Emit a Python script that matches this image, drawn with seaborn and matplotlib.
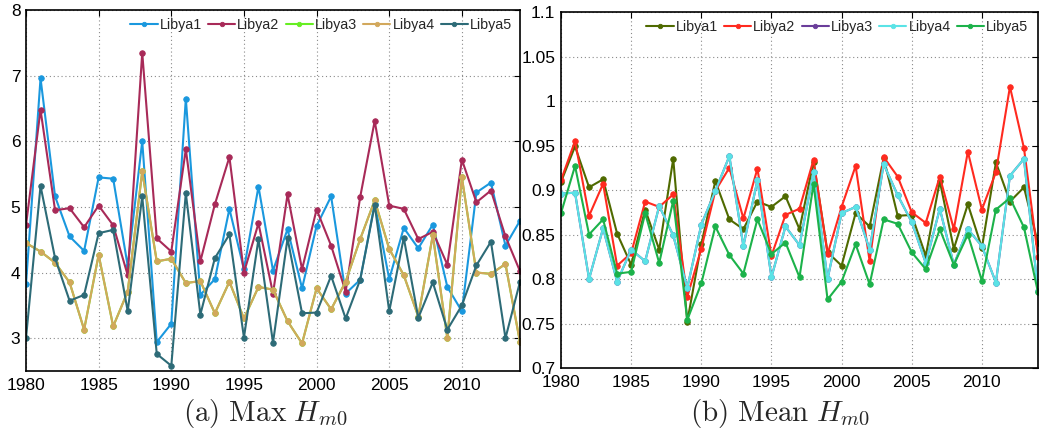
import matplotlib
matplotlib.use("Agg")
import matplotlib.pyplot as plt
import seaborn as sns
import pandas as pd

years = list(range(1980, 2015))
series_names = ["Libya1", "Libya2", "Libya3", "Libya4", "Libya5"]

# (a) Max Hm0
max_libya1 = [3.82, 6.96, 5.16, 4.55, 4.33, 5.45, 5.43, 4.10, 6.00, 2.94,
              3.22, 6.65, 3.66, 3.90, 4.97, 4.05, 5.31, 4.03, 4.66, 3.76,
              4.71, 5.16, 3.68, 3.89, 5.05, 3.90, 4.68, 4.37, 4.73, 3.78,
              3.41, 5.22, 5.37, 4.41, 4.79]
max_libya2 = [4.72, 6.48, 4.95, 4.98, 4.69, 5.02, 4.72, 3.96, 7.35, 4.52,
              4.32, 5.88, 4.17, 5.04, 5.76, 4.00, 4.75, 3.68, 5.19, 4.05,
              4.96, 4.41, 3.71, 5.15, 6.31, 5.02, 4.97, 4.51, 4.62, 4.12,
              5.72, 5.07, 5.25, 4.55, 4.02]
max_libya3 = [4.45, 4.32, 4.15, 3.85, 3.13, 4.27, 3.18, 3.71, 5.54, 4.17,
              4.21, 3.84, 3.87, 3.38, 3.86, 3.30, 3.78, 3.74, 3.26, 2.92,
              3.76, 3.44, 3.86, 4.51, 5.10, 4.36, 3.96, 3.33, 4.57, 3.00,
              5.45, 4.00, 3.98, 4.13, 2.94]
max_libya4 = [4.45, 4.32, 4.15, 3.85, 3.13, 4.27, 3.18, 3.71, 5.54, 4.17,
              4.21, 3.84, 3.87, 3.38, 3.86, 3.30, 3.78, 3.74, 3.26, 2.92,
              3.76, 3.44, 3.86, 4.51, 5.10, 4.36, 3.96, 3.33, 4.57, 3.00,
              5.45, 4.00, 3.98, 4.13, 2.94]
max_libya5 = [3.00, 5.32, 4.22, 3.57, 3.66, 4.60, 4.65, 3.41, 5.16, 2.76,
              2.58, 5.21, 3.36, 4.22, 4.58, 3.01, 4.51, 2.93, 4.52, 3.38,
              3.39, 3.95, 3.30, 3.89, 5.03, 3.41, 4.53, 3.31, 3.85, 3.13,
              3.50, 4.11, 4.47, 3.00, 3.86]

# (b) Mean Hm0
mean_libya1 = [0.909, 0.949, 0.903, 0.912, 0.851, 0.816, 0.878, 0.833, 0.935, 0.752,
               0.839, 0.910, 0.867, 0.856, 0.887, 0.881, 0.893, 0.856, 0.932, 0.830,
               0.815, 0.874, 0.859, 0.936, 0.871, 0.872, 0.826, 0.910, 0.834, 0.884,
               0.835, 0.931, 0.887, 0.903, 0.840]
mean_libya2 = [0.911, 0.955, 0.871, 0.907, 0.815, 0.829, 0.887, 0.881, 0.895, 0.780,
               0.834, 0.899, 0.925, 0.868, 0.924, 0.826, 0.872, 0.879, 0.934, 0.828,
               0.881, 0.927, 0.820, 0.937, 0.915, 0.875, 0.863, 0.915, 0.856, 0.943,
               0.878, 0.920, 1.016, 0.947, 0.825]
mean_libya3 = [0.896, 0.897, 0.800, 0.857, 0.797, 0.833, 0.820, 0.882, 0.849, 0.790,
               0.861, 0.899, 0.938, 0.837, 0.911, 0.802, 0.859, 0.838, 0.920, 0.800,
               0.874, 0.881, 0.833, 0.929, 0.894, 0.864, 0.818, 0.879, 0.816, 0.856,
               0.837, 0.796, 0.916, 0.935, 0.786]
mean_libya4 = [0.896, 0.897, 0.800, 0.857, 0.797, 0.833, 0.820, 0.882, 0.849, 0.790,
               0.861, 0.899, 0.938, 0.837, 0.911, 0.802, 0.859, 0.838, 0.920, 0.800,
               0.874, 0.881, 0.833, 0.929, 0.894, 0.864, 0.818, 0.879, 0.816, 0.856,
               0.837, 0.796, 0.916, 0.935, 0.786]
mean_libya5 = [0.874, 0.927, 0.850, 0.867, 0.806, 0.808, 0.874, 0.818, 0.888, 0.754,
               0.795, 0.859, 0.827, 0.806, 0.867, 0.828, 0.841, 0.802, 0.907, 0.777,
               0.797, 0.839, 0.794, 0.867, 0.862, 0.830, 0.811, 0.856, 0.816, 0.850,
               0.798, 0.878, 0.891, 0.858, 0.785]

x_ticks = [1980, 1985, 1990, 1995, 2000, 2005, 2010]
x_tick_labels = ["1980", "1985", "1990", "1995", "2000", "2005", "2010"]
left_y_ticks = [3, 4, 5, 6, 7, 8]
left_y_tick_labels = ["3", "4", "5", "6", "7", "8"]
right_y_ticks = [0.7, 0.75, 0.8, 0.85, 0.9, 0.95, 1.0, 1.05, 1.1]
right_y_tick_labels = ["0.7", "0.75", "0.8", "0.85", "0.9", "0.95", "1", "1.05", "1.1"]
captions = [r"$\mathrm{(a)\ Max}\ H_{m0}$", r"$\mathrm{(b)\ Mean}\ H_{m0}$"]

left_colors = ["#1a98de", "#a82a58", "#66ee22", "#d2a85c", "#2d6b77"]
right_colors = ["#4f6a00", "#ff2a1f", "#6a3d9a", "#5ae3e6", "#1cb24a"]

sns.set_theme(style="white")
plt.rcParams["font.family"] = ["Liberation Sans", "DejaVu Sans"]
plt.rcParams["mathtext.fontset"] = "cm"

fig = plt.figure(figsize=(10.42, 4.41), dpi=100)
ax1 = fig.add_axes([26 / 1042, (441 - 371) / 441, 494 / 1042, 361 / 441])
ax2 = fig.add_axes([561 / 1042, (441 - 368) / 441, 477 / 1042, 356 / 441])

left_df = pd.DataFrame({"year": years * 5,
                        "value": max_libya1 + max_libya2 + max_libya3 + max_libya4 + max_libya5,
                        "series": sum([[n] * len(years) for n in series_names], [])})
right_df = pd.DataFrame({"year": years * 5,
                         "value": mean_libya1 + mean_libya2 + mean_libya3 + mean_libya4 + mean_libya5,
                         "series": sum([[n] * len(years) for n in series_names], [])})

for ax, df, colors in [(ax1, left_df, left_colors), (ax2, right_df, right_colors)]:
    for name, col in zip(series_names, colors):
        sub = df[df["series"] == name]
        sns.lineplot(data=sub, x="year", y="value", ax=ax, color=col, marker="o",
                     markersize=4, markeredgecolor=col, markeredgewidth=0.6,
                     linewidth=1.5, label=name)
    ax.set_xlim(1980, 2014)
    ax.set_xticks(x_ticks)
    ax.set_xticklabels(x_tick_labels)
    ax.set_xlabel("")
    ax.set_ylabel("")
    ax.grid(True, linestyle=(0, (1, 2.5)), color="#8a8a8a", linewidth=0.8)
    ax.tick_params(direction="in", top=True, right=True, length=4, width=0.8,
                   labelsize=12.5, colors="black")
    ax.tick_params(axis="x", pad=5)
    ax.tick_params(axis="y", pad=4)
    for s in ax.spines.values():
        s.set_color("black")
        s.set_linewidth(1.2)
    ax.set_facecolor("white")

ax1.set_ylim(2.5, 8)
ax1.set_yticks(left_y_ticks)
ax1.set_yticklabels(left_y_tick_labels)
ax2.set_ylim(0.7, 1.1)
ax2.set_yticks(right_y_ticks)
ax2.set_yticklabels(right_y_tick_labels)

leg_kw = dict(ncol=5, loc="center right", frameon=False, fontsize=10.3,
              handlelength=1.9, handletextpad=0.15, columnspacing=0.42,
              borderpad=0, borderaxespad=0, markerscale=0.8)
ax1.legend(bbox_to_anchor=(0.984, (371 - 24.7) / 361), **leg_kw)
ax2.legend(bbox_to_anchor=((1028 - 561) / 477, (368 - 27.3) / 356), **leg_kw)

fig.text(265 / 1042, (441 - 414) / 441, captions[0], ha="center", va="center", fontsize=21)
fig.text(780 / 1042, (441 - 414) / 441, captions[1], ha="center", va="center", fontsize=21)

fig.savefig("out.png", dpi=100, facecolor="white")
